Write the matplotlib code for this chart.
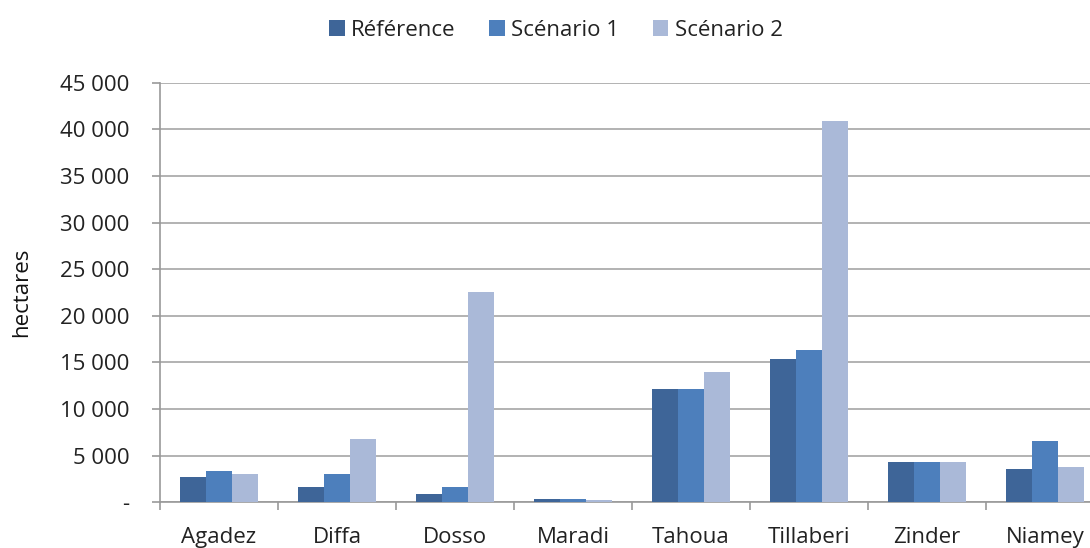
import matplotlib.pyplot as plt
import matplotlib.ticker as mticker
import numpy as np

regions = ['Agadez', 'Diffa', 'Dosso', 'Maradi', 'Tahoua', 'Tillaberi', 'Zinder', 'Niamey']
reference = [2700, 1650, 850, 300, 12200, 15400, 4350, 3550]
scenario_1 = [3400, 3000, 1650, 300, 12200, 16300, 4350, 6600]
scenario_2 = [3000, 6750, 22500, 250, 14000, 40900, 4350, 3800]

series_names = ['Référence', 'Scénario 1', 'Scénario 2']
colors = ['#3E6598', '#4D7FBC', '#AAB9D8']

plt.rcParams['font.family'] = ['Open Sans', 'DejaVu Sans']

fig = plt.figure(figsize=(10.9, 5.48), dpi=100)
ax = fig.add_axes([160 / 1090, 0.0834, 944 / 1090, 0.7657])

x = np.arange(len(regions))
bar_w = 0.22
for i, (vals, name) in enumerate(zip([reference, scenario_1, scenario_2], series_names)):
    ax.bar(x + (i - 1) * bar_w, vals, width=bar_w, color=colors[i], label=name, zorder=3)

ax.set_xlim(-0.5, len(regions) - 0.5)
ax.set_ylim(0, 45000)
ax.yaxis.set_major_locator(mticker.MultipleLocator(5000))


def fmt(v, pos):
    if v == 0:
        return '-'
    return '{:,.0f}'.format(v).replace(',', ' ')


ax.yaxis.set_major_formatter(mticker.FuncFormatter(fmt))
ax.grid(axis='y', color='#A6A6A6', linewidth=1.2, zorder=0)

ax.set_xticks(x)
ax.set_xticklabels(regions)
ax.set_xticks(np.arange(-0.5, len(regions)), minor=True)
ax.tick_params(axis='x', which='major', length=0, pad=18, labelsize=16, labelcolor='#222222')
ax.tick_params(axis='x', which='minor', length=5.8, color='#999999', width=1.2)
ax.tick_params(axis='y', length=5.8, color='#999999', width=1.2, pad=16, labelsize=16, labelcolor='#222222')

for s in ['top', 'right']:
    ax.spines[s].set_visible(False)
for s in ['left', 'bottom']:
    ax.spines[s].set_color('#999999')
    ax.spines[s].set_linewidth(1.2)

ax.set_ylabel('hectares', fontsize=16, color='#111111', labelpad=20)

fig.legend(loc='center', bbox_to_anchor=(556 / 1090, 1 - 30 / 548), ncol=3, frameon=False,
           fontsize=16, handlelength=0.7, handleheight=0.7, handletextpad=0.3, columnspacing=1.5,
           labelcolor='#222222')

fig.savefig('out.png', dpi=100)
